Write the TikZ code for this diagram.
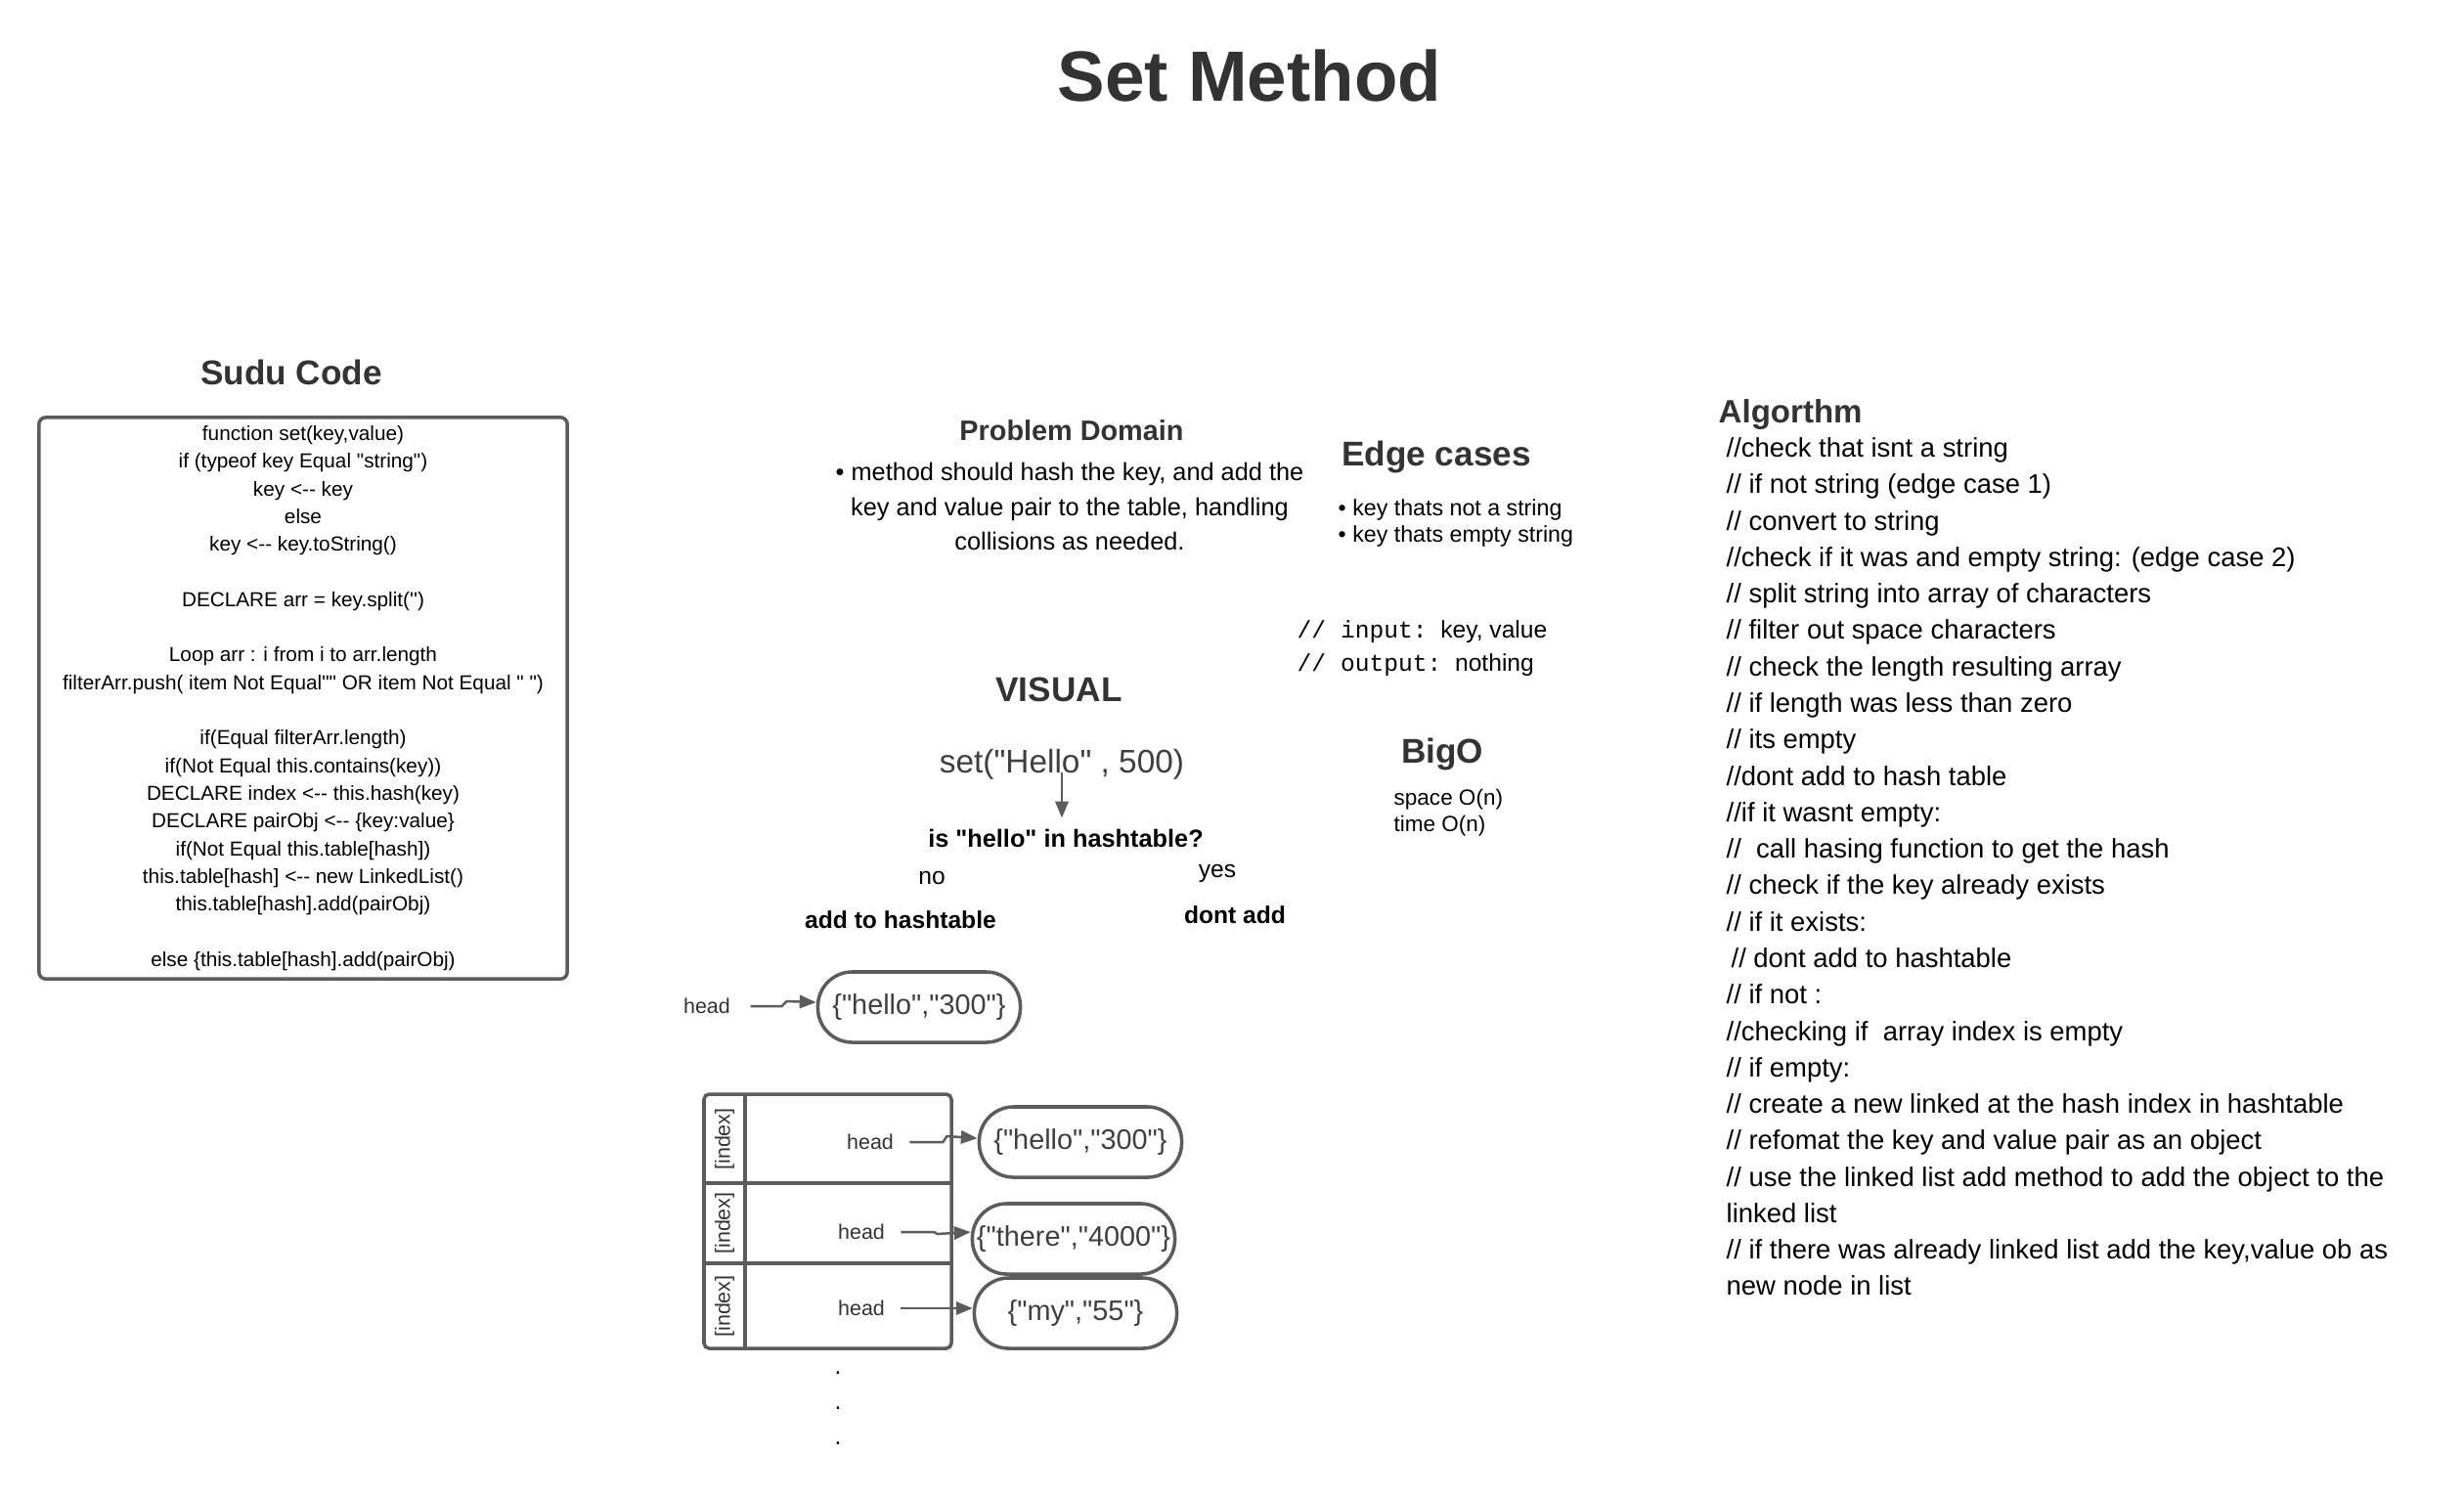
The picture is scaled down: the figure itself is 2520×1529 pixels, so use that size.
\documentclass[tikz,border=0pt]{standalone}
\usepackage{fontspec}
\setmainfont{Liberation Sans}[Ligatures=TeXOff]
\setmonofont{Liberation Mono}
\usetikzlibrary{positioning,arrows.meta}
\definecolor{headgrey}{HTML}{333333}
\definecolor{linegrey}{HTML}{5C5C5C}
\definecolor{pillgrey}{HTML}{3F3F3F}
\newcommand{\setfs}[2]{\fontsize{#1}{#2}\selectfont}

\begin{document}
\begin{tikzpicture}
[x=0.01cm, y=-0.01cm,
heading/.style={font=\setfs{10}{12}\bfseries, text=headgrey, inner sep=0pt},
plaintext/.style={font=\setfs{7}{9}, inner sep=0pt},
boldtext/.style={font=\setfs{7}{9}\bfseries, inner sep=0pt},
codebox/.style={draw=linegrey, line width=1pt, rounded corners=2pt, inner sep=0pt, align=center, font=\setfs{5.9}{8.05}},
pillnode/.style={draw=linegrey, line width=1pt, rounded corners=10pt, minimum width=2.07cm, minimum height=0.72cm, inner sep=0pt, font=\setfs{8.2}{10}, text=pillgrey},
headlabel/.style={font=\setfs{6.1}{8}, text=headgrey, inner sep=0pt},
indexlabel/.style={font=\setfs{6.1}{8}, text=headgrey, inner sep=0pt, rotate=90},
tableline/.style={draw=linegrey, line width=1pt},
flow/.style={draw=linegrey, line width=0.7pt, -{Triangle[length=4.8pt,width=3.8pt]}},
]
\useasboundingbox (0,0) rectangle (2520,1529);

% title
\node[heading, font=\setfs{20.7}{24}\bfseries] (title) at (1278,77) {Set Method};

% sudu code
\node[heading] (sudutitle) at (298,381) {Sudu Code};
\node[codebox, minimum width=5.4cm, minimum height=5.74cm] (sudu) at (310,714)
  {function set(key,value)\\ if (typeof key Equal "string")\\ key <-- key\\ else\\
   key <-- key.toString()\\[8.05pt] DECLARE arr = key.split('')\\[8.05pt]
   Loop arr : i from i to arr.length\\ filterArr.push( item Not Equal"" OR item Not Equal " ")\\[8.05pt]
   if(Equal filterArr.length)\\ if(Not Equal this.contains(key))\\ DECLARE index <-- this.hash(key)\\
   DECLARE pairObj <-- \{key:value\}\\ if(Not Equal this.table[hash])\\
   this.table[hash] <-- new LinkedList()\\ this.table[hash].add(pairObj)\\[8.05pt]
   else \{this.table[hash].add(pairObj)};

% problem domain
\node[heading, font=\setfs{8.2}{10}\bfseries] (pdtitle) at (1096,440) {Problem Domain};
\node[plaintext, font=\setfs{7.2}{10.1}, align=center] (pdtext) at (1094,518)
  {\textbullet\ method should hash the key, and add the\\ key and value pair to the table, handling\\ collisions as needed.};

% edge cases
\node[heading] (edgetitle) at (1469,467) {Edge cases};
\node[plaintext, font=\setfs{6.6}{7.7}, align=left, anchor=west] (edgetext) at (1368,535)
  {\textbullet\ key thats not a string\\ \textbullet\ key thats empty string};

\node[plaintext, font=\setfs{7}{9.7}, align=left, anchor=west] (io) at (1326,663)
  {{\ttfamily // input:}\ \ key, value\\ {\ttfamily // output:}\ \ nothing};

% visual
\node[heading] (visual) at (1083,705) {VISUAL};
\node[plaintext, font=\setfs{9.5}{11}, text=pillgrey] (setcall) at (1086,782) {set("Hello" , 500)};
\node[boldtext, font=\setfs{7.2}{9}\bfseries, inner sep=3pt] (question) at (1090,857) {is "hello" in hashtable?};
\draw[flow] ([yshift=-2.3pt]setcall.center) -- (setcall.center |- question.north);
\node[plaintext] (no) at (953,898) {no};
\node[plaintext] (yes) at (1245,893) {yes};
\node[boldtext] (addto) at (921,941) {add to hashtable};
\node[boldtext] (dontadd) at (1263,936) {dont add};

% big o
\node[heading] (bigo) at (1475,771) {BigO};
\node[plaintext, font=\setfs{6.4}{7.7}, align=left, anchor=west] (bigotext) at (1425,831)
  {space O(n)\\ time O(n)};

% single node
\node[headlabel] (h0) at (723,1029) {head};
\node[pillnode] (p0) at (940,1030) {\{"hello","300"\}};
\draw[flow] ([xshift=5.7pt]h0.east) -- ++(32,0) -- ++(5,-5) -- ([yshift=1.4pt]p0.west);

% hash table
\draw[tableline, rounded corners=1.5pt] (720,1119) rectangle (973,1379);
\draw[tableline] (762,1119) -- (762,1379);
\draw[tableline] (720,1210) -- (973,1210);
\draw[tableline] (720,1292) -- (973,1292);
\foreach \y/\n in {1165/1,1251/2,1336/3}
  \node[indexlabel] (idx\n) at (741,\y) {[index]};

\node[headlabel] (h1) at (890,1168) {head};
\node[headlabel] (h2) at (881,1260) {head};
\node[headlabel] (h3) at (881,1338) {head};
\node[pillnode] (p1) at (1105,1168) {\{"hello","300"\}};
\node[pillnode] (p2) at (1098,1267) {\{"there","4000"\}};
\node[pillnode] (p3) at (1100,1343) {\raisebox{1.2pt}{\{"my","55"\}}};
\draw[flow] ([xshift=4.5pt]h1.east) -- ++(34,0) -- ++(4,-6) -- ([yshift=1.1pt]p1.west);
\draw[flow] ([xshift=4.5pt]h2.east) -- ++(34,0) -- ++(3,2) -- (h2.east -| p2.west);
\draw[flow] ([xshift=4.5pt]h3.east) -- (h3.east -| p3.west);
\foreach \y/\n in {1404/1,1440/2,1476/3}
  \node[plaintext] (dot\n) at (857,\y) {.};

% algorithm
\node[heading, font=\setfs{9.4}{11}\bfseries, anchor=west] (algotitle) at (1757,424) {Algorthm};
\node[plaintext, font=\setfs{7.8}{10.6}, align=left, anchor=north west] (algotext) at (1765,447)
  {//check that isnt a string\\ // if not string (edge case 1)\\ // convert to string\\
   //check if it was and empty string: (edge case 2)\\ // split string into array of characters\\
   // filter out space characters\\ // check the length resulting array\\
   // if length was less than zero\\ // its empty\\ //dont add to hash table\\
   //if it wasnt empty:\\ //\ \ call hasing function to get the hash\\
   // check if the key already exists\\ // if it exists:\\ \hspace*{1.4pt}// dont add to hashtable\\
   // if not :\\ //checking if\ \ array index is empty\\ // if empty:\\
   // create a new linked at the hash index in hashtable\\ // refomat the key and value pair as an object\\
   // use the linked list add method to add the object to the\\ linked list\\
   // if there was already linked list add the key,value ob as\\ new node in list};
\end{tikzpicture}
\end{document}
